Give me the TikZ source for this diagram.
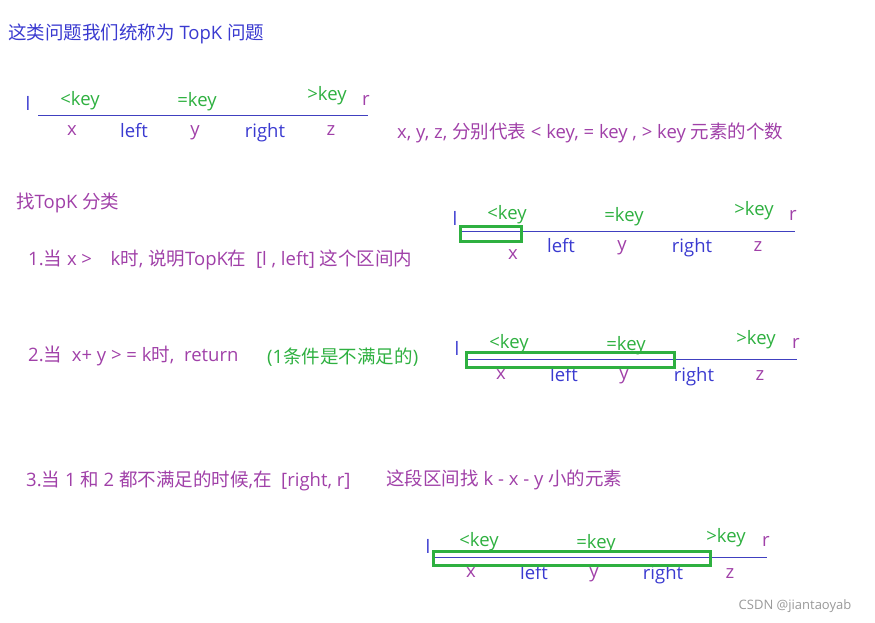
\documentclass[tikz,border=0pt]{standalone}
\usepackage{fontspec}
\setmainfont{Open Sans}
\newfontfamily\cjf{Noto Sans CJK SC}
\newcommand{\cj}[1]{{\cjf #1}}
\definecolor{bl}{HTML}{3A3AD0}
\definecolor{pu}{HTML}{A040A8}
\definecolor{gr}{HTML}{2EB040}
\definecolor{ln}{HTML}{4040C0}
\tikzset{
 t/.style={inner sep=0pt,font=\fontsize{18.5}{21}\selectfont},
 tl/.style={t,anchor=west},
 b/.style={t,text=bl}, p/.style={t,text=pu}, g/.style={t,text=gr},
 rule/.style={draw=ln,line width=0.8pt},
 box/.style={draw=gr,line width=3pt}
}
\begin{document}
\begin{tikzpicture}[x=1pt,y=-1pt]
\useasboundingbox (0,0) rectangle (875,623);
\node[b,tl] (title) at (8,34) {\cj{这类问题我们统称为} TopK \cj{问题}};
% diagram 1
\node[b] (l1) at (28,103) {l};
\coordinate (a1) at (38,115); \coordinate (b1) at (368,115);
\draw[rule] (a1) -- (b1);
\node[g] (lt1) at (80,101) {<key}; \node[g] (eq1) at (197,102) {=key}; \node[g] (gt1) at (327,96) {>key};
\node[p] (r1) at (366,100) {r};
\node[p] (x1) at (72,131) {x}; \node[b] (lf1) at (134,131) {left}; \node[p] (y1) at (195,133) {y};
\node[b] (rt1) at (265,133) {right}; \node[p] (z1) at (331,131) {z};
\node[p,tl] (desc) at (397,133) {x, y, z, \cj{分别代表} < key, = key , > key \cj{元素的个数}};
\node[p,tl] (find) at (16,203) {\cj{找}TopK \cj{分类}};
% diagram 2
\node[b] (l2) at (455,218) {l};
\coordinate (a2) at (462,231); \coordinate (b2) at (795,231);
\draw[rule] (a2) -- (b2);
\node[g] (lt2) at (507,215) {<key}; \node[g] (eq2) at (624,217) {=key}; \node[g] (gt2) at (754,211) {>key};
\node[p] (r2) at (793,215) {r};
\node[p] (x2) at (513,255) {x}; \node[b] (lf2) at (561,246) {left}; \node[p] (y2) at (622,248) {y};
\node[b] (rt2) at (692,248) {right}; \node[p] (z2) at (758,247) {z};
\draw[box] (460,226) rectangle (521,241);
\node[p,tl] (c1) at (28,260) {1.\cj{当} x >\quad k\cj{时}, \cj{说明}TopK\cj{在}\ \ [l , left] \cj{这个区间内}};
% diagram 3
\node[b] (l3) at (457,348) {l};
\coordinate (a3) at (465,359); \coordinate (b3) at (797,359);
\draw[rule] (a3) -- (b3);
\node[g] (lt3) at (509,344) {<key}; \node[g] (eq3) at (626,346) {=key}; \node[g] (gt3) at (756,340) {>key};
\node[p] (r3) at (796,343) {r};
\node[p] (x3) at (501,375) {x}; \node[b] (lf3) at (564,375) {left}; \node[p] (y3) at (624,377) {y};
\node[b] (rt3) at (694,377) {right}; \node[p] (z3) at (760,376) {z};
\draw[box] (466,352) rectangle (674,367);
\node[p,tl] (c2) at (28,356) {2.\cj{当}\ \ x+ y > = k\cj{时},\ \ return};
\node[g,tl] (c2n) at (267,357) {(1\cj{条件是不满足的})};
% diagram 4
\node[p,tl] (c3) at (26,481) {3.\cj{当} 1 \cj{和} 2 \cj{都不满足的时候},\cj{在}\ \ [right, r]};
\node[p,tl] (c3b) at (386,480) {\cj{这段区间找} k - x - y \cj{小的元素}};
\node[b] (l4) at (428,546) {l};
\coordinate (a4) at (434,557); \coordinate (b4) at (767,557);
\draw[rule] (a4) -- (b4);
\node[g] (lt4) at (479,542) {<key}; \node[g] (eq4) at (596,544) {=key}; \node[g] (gt4) at (726,538) {>key};
\node[p] (r4) at (766,541) {r};
\node[p] (x4) at (471,573) {x}; \node[b] (lf4) at (534,573) {left}; \node[p] (y4) at (594,575) {y};
\node[b] (rt4) at (663,575) {right}; \node[p] (z4) at (730,574) {z};
\draw[box] (433,551) rectangle (710,565);
\node[t,text=gray!80,font=\fontsize{13}{15}\selectfont] (wm) at (795,606) {CSDN @jiantaoyab};
\end{tikzpicture}
\end{document}
